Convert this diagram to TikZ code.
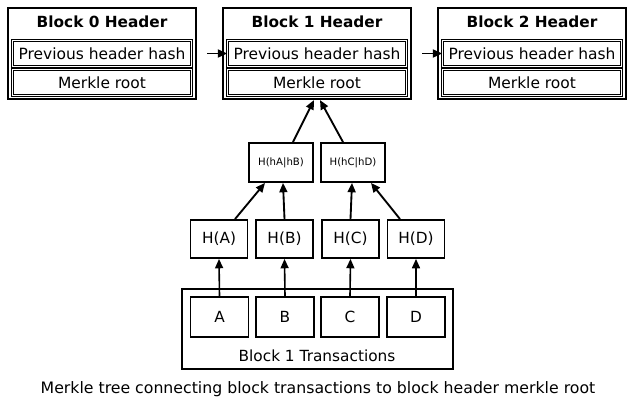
\documentclass[tikz,border=0pt]{standalone}
\usepackage{fontspec}
\setmainfont{DejaVu Sans}
\usetikzlibrary{arrows.meta,calc}
\def\px{0.75pt}
\tikzset{
  hdr/.style={draw, line width=1.6pt, minimum width=188*\px, minimum height=91*\px, inner sep=0pt},
  field/.style={draw, line width=0.5pt, double, double distance=1.1pt, minimum width=179*\px, minimum height=26*\px, inner sep=0pt, font=\fontsize{11.6}{14}\selectfont},
  title/.style={font=\fontsize{11.5}{13}\selectfont\bfseries, inner sep=0pt},
  hbox/.style={draw, line width=1.4pt, minimum width=57*\px, minimum height=38*\px, inner sep=0pt, font=\fontsize{11.5}{13}\selectfont},
  hsmall/.style={draw, line width=1.4pt, minimum width=64*\px, minimum height=39*\px, inner sep=0pt, font=\fontsize{7.6}{9}\selectfont},
  conn/.style={line width=1.4pt, -{Triangle[length=7pt,width=6pt]}},
  tconn/.style={line width=1.2pt, -{Triangle[length=7pt,width=6pt]}},
  txbox/.style={draw, line width=1.2pt, minimum width=58*\px, minimum height=40*\px, inner sep=0pt, font=\fontsize{11.5}{13}\selectfont},
}
\begin{document}
\begin{tikzpicture}[x=0.75pt,y=-0.75pt]
\useasboundingbox (0,0) rectangle (640,404);
% headers
\foreach \i/\cx in {0/102,1/317,2/532}{
  \node[hdr] (b\i) at (\cx,53.5) {};
  \node[title] (t\i) at (\cx,22) {Block \i\ Header};
  \node[field] (p\i) at (\cx,53.5) {Previous header hash};
  \node[field] (m\i) at (\cx,82.5) {Merkle root};
}
\draw[conn, shorten <=7.5pt] (b0.east) -- (p1.west);
\draw[conn, shorten <=7.5pt] (b1.east) -- (p2.west);
% intermediate hashes
\node[hsmall] (hab) at (281,162.5) {H(hA|hB)};
\node[hsmall] (hcd) at (353,162.5) {H(hC|hD)};
\node[hbox] (ha) at (219,239) {H(A)};
\node[hbox] (hb) at (284.5,239) {H(B)};
\node[hbox] (hc) at (350.5,239) {H(C)};
\node[hbox] (hd) at (416,239) {H(D)};
% transactions
\node[draw, line width=1.2pt, minimum width=271*\px, minimum height=80*\px, inner sep=0pt] (tx) at (317.5,329) {};
\node[txbox] (a) at (219.5,317) {A};
\node[txbox] (b) at (285,317) {B};
\node[txbox] (c) at (350,317) {C};
\node[txbox] (d) at (416,317) {D};
\node[font=\fontsize{11.5}{13}\selectfont, inner sep=0pt] (txl) at (317,356) {Block 1 Transactions};
\node[font=\fontsize{11.8}{13}\selectfont, inner sep=0pt] (cap) at (318,389) {Merkle tree connecting block transactions to block header merkle root};
% connectors
\draw[conn] ([xshift=12*\px]hab.north) -- ([xshift=-3*\px]b1.south);
\draw[conn] ([xshift=-10*\px]hcd.north) -- ([xshift=3*\px]b1.south);
\draw[conn] ([xshift=16*\px]ha.north) -- ([xshift=-16*\px]hab.south);
\draw[conn] (hb.north) -- ([xshift=2*\px]hab.south);
\draw[conn] (hc.north) -- ([xshift=-1*\px]hcd.south);
\draw[conn] ([xshift=-16*\px]hd.north) -- ([xshift=18*\px]hcd.south);
\draw[tconn] (a.north) -- (ha.south);
\draw[tconn] (b.north) -- (hb.south);
\draw[tconn] (c.north) -- (hc.south);
\draw[tconn] (d.north) -- (hd.south);
\end{tikzpicture}
\end{document}
